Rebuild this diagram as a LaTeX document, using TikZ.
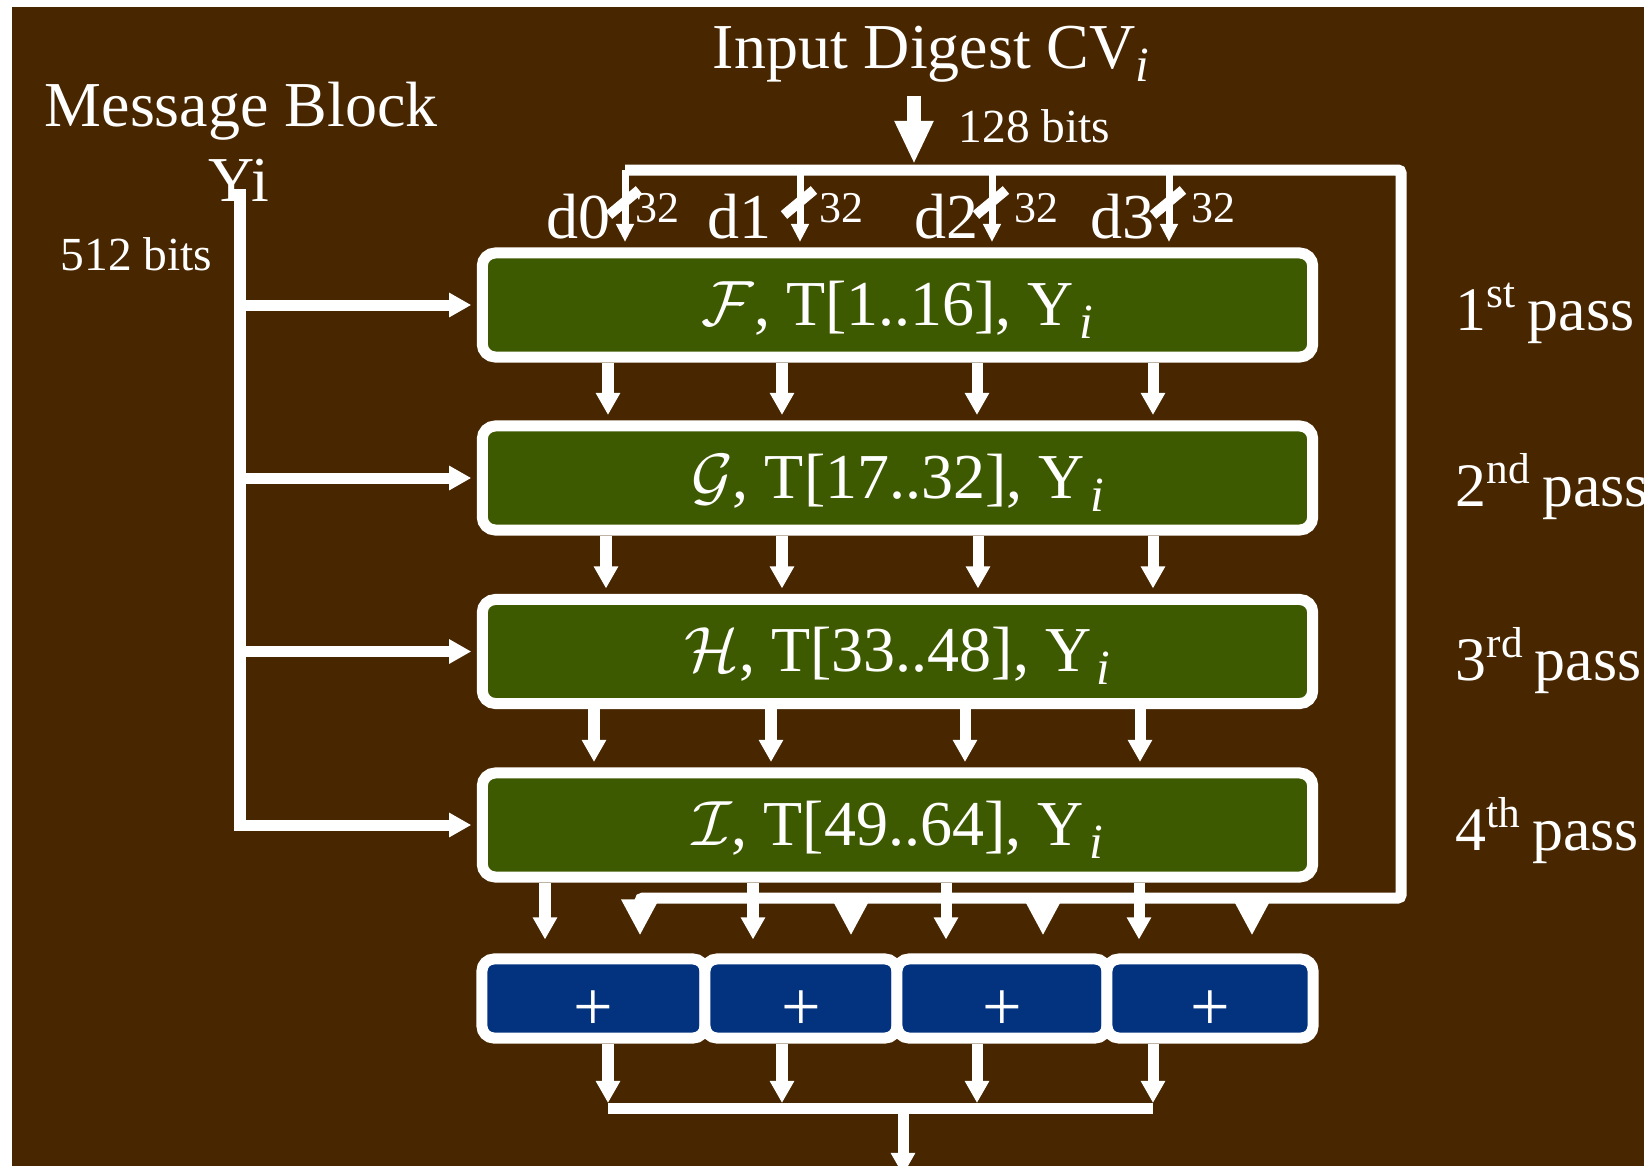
\documentclass[tikz,border=0pt]{standalone}
\usepackage{fix-cm}
\usepackage{fontspec}
\setmainfont{Liberation Serif}
\usetikzlibrary{arrows.meta}
\definecolor{bgbrown}{RGB}{72,38,0}
\definecolor{passgreen}{RGB}{62,90,0}
\definecolor{addblue}{RGB}{3,51,127}
\newcommand{\subi}[1][0pt]{\kern#1\raisebox{-3.8pt}{\fontsize{14}{14}\selectfont\itshape i}}

\begin{document}
\begin{tikzpicture}[x=0.01cm,y=-0.01cm,
    bigtext/.style={font=\fontsize{18.2}{20}\selectfont,text=white,inner sep=0pt},
    smalltext/.style={font=\fontsize{13.5}{15}\selectfont,text=white,inner sep=0pt},
    bittext/.style={font=\fontsize{12.5}{14}\selectfont,text=white,inner sep=0pt},
    passbox/.style={draw=white,line width=0.11cm,fill=passgreen,rounded corners=0.13cm,
        minimum width=8.3cm,minimum height=1.04cm,inner sep=0pt,text depth=1.2pt,
        font=\fontsize{18.2}{20}\selectfont,text=white},
    addbox/.style={draw=white,line width=0.11cm,fill=addblue,rounded corners=0.12cm,
        minimum height=0.79cm,inner sep=0pt,text height=18pt,text depth=0pt,
        text=white,font=\fontsize{20}{22}\selectfont},
    wire/.style={draw=white,line width=0.11cm},
    arr/.style={wire,-{Triangle[width=0.23cm,length=0.22cm]},shorten >=0.055cm},
    bigarr/.style={wire,-{Triangle[width=0.35cm,length=0.36cm]},shorten >=0.18cm},
    darr/.style={draw=white,line width=0.07cm,-{Triangle[width=0.17cm,length=0.18cm]},shorten >=0.055cm},
    widthmark/.style={draw=white,line width=0.1cm}]
    \fill[white] (0,0) rectangle (1644,1166);
    \fill[bgbrown] (12,7) rectangle (1644,1166);
    \useasboundingbox (0,0) rectangle (1644,1166);

    \node[bigtext,anchor=base west] (msg) at (44,126) {Message Block};
    \node[bigtext,anchor=base west] (yi) at (208,201) {Yi};
    \node[smalltext,anchor=base west] (msgbits) at (60,270) {512 bits};
    \node[bigtext,anchor=base west] (cv) at (712,68) {Input Digest CV\subi};
    \node[smalltext,anchor=base west] (cvbits) at (958,142) {128 bits};

    \node[passbox] (pass1) at (897.5,305) {$\mathcal{F}$, T[1..16], Y\subi[1.5pt]};
    \node[passbox] (pass2) at (897.5,478) {$\mathcal{G}$, T[17..32], Y\subi[1.5pt]};
    \node[passbox] (pass3) at (897.5,651.5) {$\mathcal{H}$, T[33..48], Y\subi[1.5pt]};
    \node[passbox] (pass4) at (897.5,825) {$\mathcal{I}$, T[49..64], Y\subi[1.5pt]};

    \node[addbox,minimum width=2.23cm] (add1) at (593.5,998.5) {+};
    \node[addbox,minimum width=1.92cm] (add2) at (801,998.5) {+};
    \node[addbox,minimum width=2.10cm] (add3) at (1002,998.5) {+};
    \node[addbox,minimum width=2.06cm] (add4) at (1210,998.5) {+};

    \foreach \k/\y/\s in {1/330/st,2/506/nd,3/680/rd,4/850/th}
        \node[bigtext,font=\fontsize{17.6}{19}\selectfont,anchor=base west] (lab\k) at (1455,\y) {\k\textsuperscript{\s}\,pass};
    \foreach \k/\x/\xx in {0/578/657,1/739/841,2/946/1036,3/1122/1213} {
        \node[bigtext] (d\k) at (\x,217) {d\k};
        \node[bittext] (w\k) at (\xx,208) {32};
    }

    \coordinate (cvtop) at (914,96);
    \coordinate (busL) at (625,170);
    \coordinate (busR) at (1401,170);
    \coordinate (busB) at (1401,898);
    \coordinate (busE) at (640,898);
    \coordinate (msgtop) at (240,189);
    \coordinate (outL) at (608,1108.5);
    \coordinate (outR) at (1153,1108.5);
    \coordinate (out) at (903,1175);

    \draw[wire,line width=0.14cm,-{Triangle[width=0.36cm,length=0.43cm]},shorten >=0.06cm] (cvtop) -- (914,0 |- busL);
    \draw[bigarr,rounded corners=0.03cm] (busL) -- (busR) -- (busB) -- (busE) -- (640,0 |- add1.north);
    \foreach \x/\k in {851/2,1043/3,1252/4}
        \draw[bigarr] (\x,0 |- busB) -- (\x,0 |- add\k.north);
    \foreach \x in {625,800,992,1169} {
        \draw[darr] (\x,0 |- busL) -- (\x,0 |- pass1.north);
        \draw[widthmark] (\x+14,190) -- (\x-16,215);
    }

    \draw[arr] (msgtop) |- (pass4.west);
    \foreach \k in {1,2,3}
        \draw[arr] (240,0 |- pass\k.west) -- (pass\k.west);

    \foreach \x in {608,782,977,1153}
        \draw[arr] (\x,0 |- pass1.south) -- (\x,0 |- pass2.north);
    \foreach \x in {606,782,978,1153}
        \draw[arr] (\x,0 |- pass2.south) -- (\x,0 |- pass3.north);
    \foreach \x in {594,771,965,1140}
        \draw[arr] (\x,0 |- pass3.south) -- (\x,0 |- pass4.north);
    \foreach \x/\k in {545/1,753/2,946/3,1139/4}
        \draw[arr,shorten >=0.14cm] (\x,0 |- pass4.south) -- (\x,0 |- add\k.north);

    \foreach \x/\k in {608/1,782/2,977/3,1153/4}
        \draw[arr] (\x,0 |- add\k.south) -- (\x,0 |- outL);
    \draw[wire] (outL) -- (outR);
    \draw[arr,shorten >=0pt] (903,0 |- outL) -- (out);
\end{tikzpicture}
\end{document}
